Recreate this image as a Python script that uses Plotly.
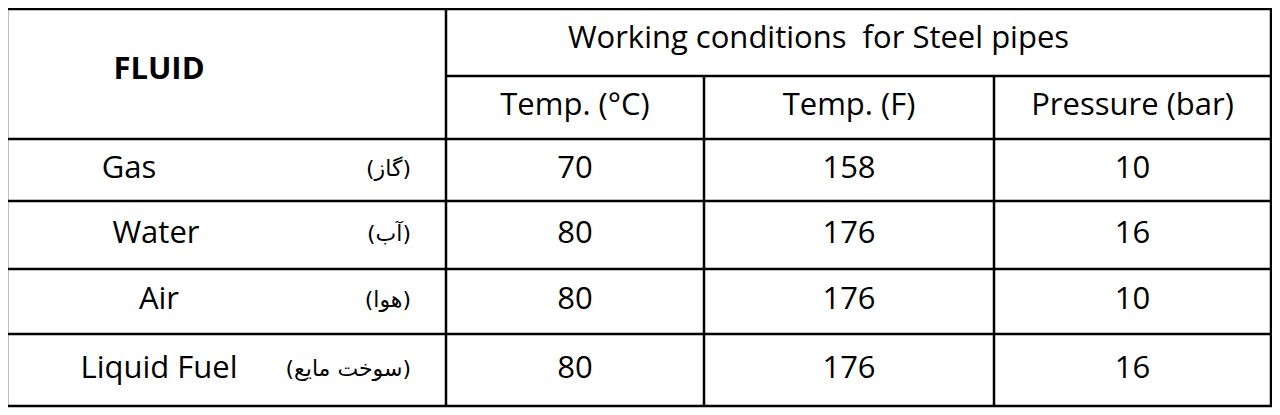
import plotly.graph_objects as go

fluids = ["Gas", "Water", "Air", "Liquid Fuel"]
fluids_fa = ["(گاز)", "(آب)", "(هوا)", "(سوخت مایع)"]
temp_c = [70, 80, 80, 80]
temp_f = [158, 176, 176, 176]
pressure = [10, 16, 10, 16]
sub_headers = ["Temp. (°C)", "Temp. (F)", "Pressure (bar)"]
group_header = "Working conditions  for Steel pipes"
fluid_header = "FLUID"

W, H = 1280, 415
off = 9
xL, xR = 8, 1272
xc = [8, 447, 705, 995, 1272]
yr = [8, 75, 138, 200, 268, 333, 405]
font = "Open Sans, Noto Sans, sans-serif"
fs = 31

fig = go.Figure()
row_y = [(yr[i + 2] + yr[i + 3]) / 2 for i in range(len(fluids))]
col_x = [(xc[j + 1] + xc[j + 2]) / 2 for j in range(3)]
name_x = [130, 157, 160, 160]

fig.add_trace(go.Scatter(x=name_x, y=row_y, text=fluids, mode="text",
                         textfont=dict(family=font, size=fs, color="black"), hoverinfo="skip"))
fig.add_trace(go.Scatter(x=[412] * len(fluids), y=row_y, text=fluids_fa, mode="text",
                         textposition="middle left",
                         textfont=dict(family="DejaVu Sans", size=22, color="black"), hoverinfo="skip"))
for j, vals in enumerate([temp_c, temp_f, pressure]):
    fig.add_trace(go.Scatter(x=[col_x[j]] * len(vals), y=row_y, text=[str(v) for v in vals], mode="text",
                             textfont=dict(family=font, size=fs, color="black"), hoverinfo="skip"))
fig.add_trace(go.Scatter(x=col_x, y=[(yr[1] + yr[2]) / 2] * 3, text=sub_headers, mode="text",
                         textfont=dict(family=font, size=fs, color="black"), hoverinfo="skip"))
fig.add_trace(go.Scatter(x=[(xc[1] + xc[4]) / 2 - 40], y=[(yr[0] + yr[1]) / 2 - 2], text=[group_header], mode="text",
                         textfont=dict(family=font, size=fs, color="black"), hoverinfo="skip"))
fig.add_trace(go.Scatter(x=[160], y=[70], text=["<b>" + fluid_header + "</b>"], mode="text",
                         textfont=dict(family=font, size=fs, color="black"), hoverinfo="skip"))

lw = 2.5
shapes = [dict(type="rect", x0=xL, x1=xR, y0=yr[0], y1=yr[-1], line=dict(color="black", width=lw))]
shapes.append(dict(type="line", x0=xc[1], x1=xc[1], y0=yr[0], y1=yr[-1], line=dict(color="black", width=lw)))
for x in xc[2:4]:
    shapes.append(dict(type="line", x0=x, x1=x, y0=yr[1], y1=yr[-1], line=dict(color="black", width=lw)))
shapes.append(dict(type="line", x0=xc[1], x1=xR, y0=yr[1], y1=yr[1], line=dict(color="black", width=lw)))
for y in yr[2:-1]:
    shapes.append(dict(type="line", x0=xL, x1=xR, y0=y, y1=y, line=dict(color="black", width=lw)))

fig.update_layout(width=W, height=H, margin=dict(l=0, r=0, t=0, b=0), showlegend=False,
                  plot_bgcolor="white", paper_bgcolor="white", shapes=shapes,
                  xaxis=dict(range=[off, W + off], visible=False, fixedrange=True),
                  yaxis=dict(range=[H + 7, 7], visible=False, fixedrange=True))
fig.write_html("out.html")
